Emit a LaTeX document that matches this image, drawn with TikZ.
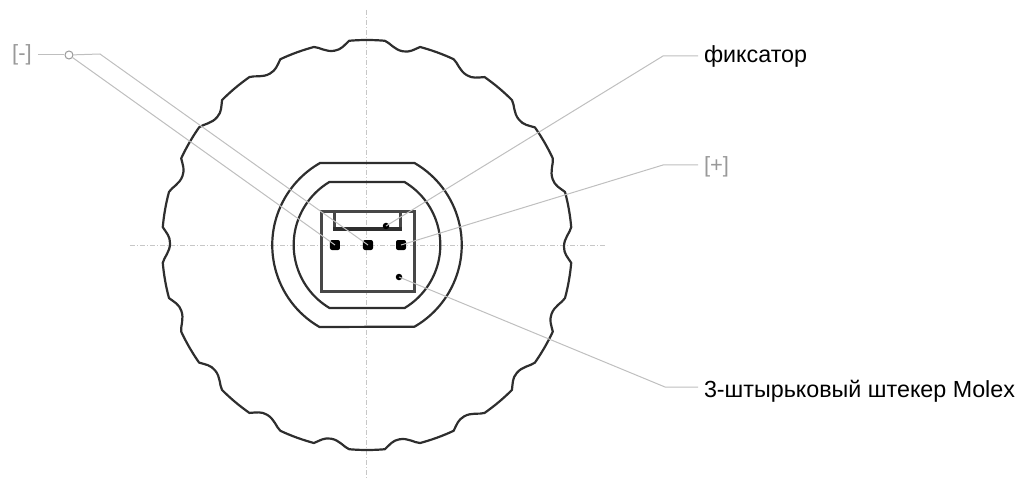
\documentclass[tikz,border=0pt]{standalone}
\usepackage{fontspec}
\setmainfont{Liberation Sans}
\usetikzlibrary{positioning}

\tikzset{
	body/.style={line width=2.2pt, draw=black!82, line join=round},
	plugbody/.style={line width=2.8pt, draw=black!72, line join=miter},
	centerline/.style={line width=1pt, draw=black!22, dash pattern=on 5pt off 2pt on 1pt off 2pt},
	leader/.style={line width=1pt, draw=black!25},
	pin/.style={fill=black, rounded corners=2pt, minimum size=10pt, inner sep=0pt},
	spot/.style={circle, fill=black, minimum size=6.5pt, inner sep=0pt},
	caption/.style={font=\fontsize{23.3pt}{26pt}\selectfont, inner sep=0pt, outer sep=6pt, anchor=west},
	mark label/.style={font=\fontsize{22pt}{26pt}\selectfont, text=black!40, inner sep=0pt, outer sep=6pt},
}

\begin{document}
\begin{tikzpicture}[x=1pt, y=1pt]
	\useasboundingbox (-367,-234) rectangle (669,245);

	% axes
	\coordinate (axisL) at (-237,0);
	\coordinate (axisR) at (238,0);
	\coordinate (axisT) at (0,235);
	\coordinate (axisB) at (0,-233);
	\draw[centerline] (axisL) -- (axisR);
	\draw[centerline] (axisT) -- (axisB);

	% knurled rim
	\draw[body] (95:205)
		\foreach \a in {0,-20,...,-340} {
			arc[start angle=\a+95, delta angle=-10, radius=205]
			.. controls (\a+83.5:203.5) and (\a+82:197) .. (\a+79.5:197)
			.. controls (\a+77.5:197) and (\a+76.5:201) .. (\a+75:205)
		} -- cycle;

	% housing
	\draw[body] (-47.5,82) -- (47.5,82) arc[start angle=60, delta angle=-120, radius=94.5]
		-- (-47.5,-82) arc[start angle=240, delta angle=-120, radius=94.5] -- cycle;
	\draw[body] (-37.5,63) -- (37.5,63) arc[start angle=59.2, delta angle=-118.4, radius=73.4]
		-- (-37.5,-63) arc[start angle=239.2, delta angle=-118.4, radius=73.4] -- cycle;

	% plug
	\draw[plugbody] (-45.4,33.4) -- (47.4,33.4) -- (47.4,-46.4) -- (-45.4,-46.4) -- cycle;
	\draw[plugbody] (-32.4,33) -- (-32.4,16) (33.4,16) -- (33.4,33);
	\draw[body, line width=3.4pt] (-33.8,16) -- (34.8,16);

	\node[pin]  (pinA)  at (-32,0)  {};
	\node[pin]  (pinB)  at (1,0)    {};
	\node[pin]  (pinC)  at (34,0)   {};
	\node[spot] (latch) at (19,19)  {};
	\node[spot] (plug)  at (32,-32) {};

	% labels
	\node[mark label] (minus)  at (-345,190)            {[-]};
	\node[caption] (fix)    at (331,189)                {фиксатор};
	\node[mark label, anchor=west] (plus) at (331,78)   {[+]};
	\node[caption] (molex)  at (331,-146)               {3-штырьковый штекер Molex};

	\node[circle, draw=black!40, line width=1pt, minimum size=8pt, inner sep=0pt] (join) at (-298,190) {};

	\coordinate (elbowM) at (-267,191);
	\coordinate (elbowF) at (296,189);
	\coordinate (elbowP) at (296,80);
	\coordinate (elbowX) at (298,-142);

	\draw[leader] (minus) -- (join);
	\draw[leader] (join) -- (elbowM) -- (pinB.center);
	\draw[leader] (join) -- (pinA.center);
	\draw[leader] (fix.west) -- (elbowF) -- (latch.center);
	\draw[leader] ([yshift=2pt]plus.west) -- (elbowP) -- (pinC.center);
	\draw[leader] ([yshift=4pt]molex.west) -- (elbowX) -- (plug.center);
\end{tikzpicture}
\end{document}
